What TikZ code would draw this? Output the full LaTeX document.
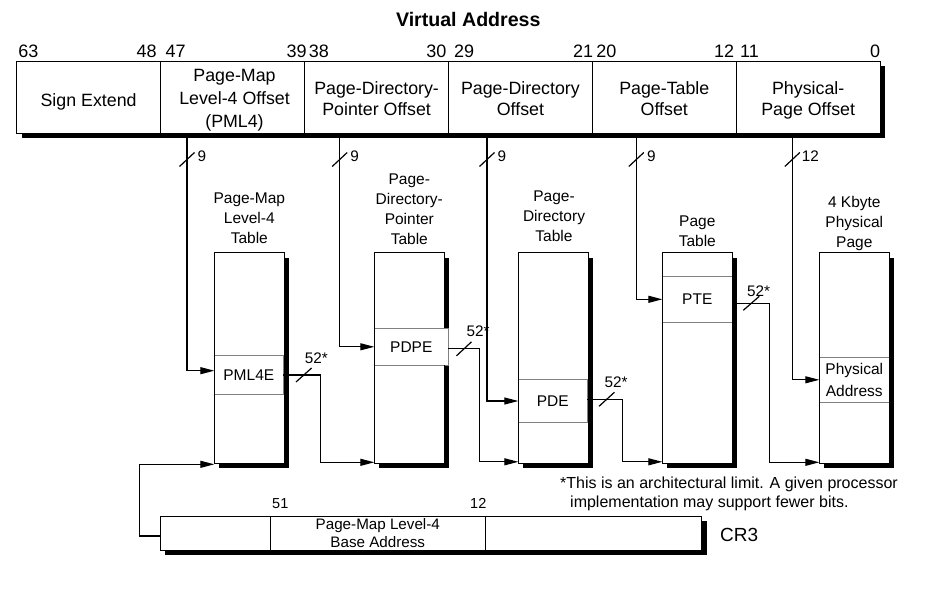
\documentclass[tikz,border=0pt]{standalone}
\usepackage{fontspec}
\setmainfont{Liberation Sans}
\usetikzlibrary{arrows.meta,shadows}
\begin{document}
\begin{tikzpicture}[x=1pt,y=-1pt,
  bx/.style={draw=black,line width=0.9pt,fill=white,inner sep=0pt,outer sep=0pt},
  shd/.style={drop shadow={shadow xshift=5pt,shadow yshift=-5pt,fill=black,opacity=1}},
  seg/.style={bx,minimum width=143.9pt,minimum height=72pt},
  bartxt/.style={inner sep=0pt,align=center,font=\fontsize{17.8}{21.5}\selectfont},
  bitn/.style={inner sep=0pt,font=\fontsize{18}{20}\selectfont},
  tbl/.style={bx,shd,minimum width=70pt,minimum height=210.6pt},
  ent/.style={draw=black!50,line width=0.8pt,fill=white,inner sep=0pt,outer sep=0pt,align=center,font=\fontsize{15.5}{21.7}\selectfont},
  ttl/.style={inner sep=0pt,align=center,font=\fontsize{15.5}{20}\selectfont},
  lbl/.style={inner sep=0pt,font=\fontsize{15.3}{17}\selectfont},
  conn/.style={line width=1.1pt,-{Triangle[length=14pt,width=7pt]}},
  slsh/.style={line width=1.2pt},
]
\fill[white] (0,0) rectangle (952,591);
\useasboundingbox (0,0) rectangle (952,591);

% title
\node[inner sep=0pt,font=\bfseries\fontsize{19.6}{22}\selectfont] (vtitle) at (468.3,19) {Virtual Address};

% bit numbers
\node[bitn] (b63) at (28.3,51.7) {63};
\node[bitn] (b48) at (146.7,51.7) {48};
\node[bitn] (b47) at (175.7,51.7) {47};
\node[bitn] (b39) at (296.7,51.7) {39};
\node[bitn] (b38) at (318.8,51.7) {38};
\node[bitn] (b30) at (436.3,51.7) {30};
\node[bitn] (b29) at (464.2,51.7) {29};
\node[bitn] (b21) at (583.2,51.7) {21};
\node[bitn] (b20) at (606.3,51.7) {20};
\node[bitn] (b12) at (724.2,51.7) {12};
\node[bitn] (b11) at (749.5,51.7) {11};
\node[bitn] (b0) at (875,51.7) {0};

% virtual address bar
\node[bx,shd,minimum width=863.3pt,minimum height=72pt] (vabar) at (448.35,97) {};
\node[seg] (s1) at (88.65,97) {};
\node[seg] (s2) at (232.55,97) {};
\node[seg] (s3) at (376.45,97) {};
\node[seg] (s4) at (520.35,97) {};
\node[seg] (s5) at (664.25,97) {};
\node[seg] (s6) at (808.15,97) {};
\node[bartxt] (t1) at (88.6,101.7) {Sign Extend};
\node[bartxt,font=\fontsize{17.8}{23}\selectfont] (t2) at (234.5,100.3) {Page-Map\\Level-4 Offset\\(PML4)};
\node[bartxt] (t3) at (376.6,98.4) {Page-Directory-\\Pointer Offset};
\node[bartxt] (t4) at (520.4,98.4) {Page-Directory\\Offset};
\node[bartxt] (t5) at (664.3,98.4) {Page-Table\\Offset};
\node[bartxt] (t6) at (808.2,100.2) {Physical-\\Page Offset};

% tables
\node[tbl] (pml4) at (249.3,358) {};
\node[tbl] (pdpt) at (409.3,358) {};
\node[tbl] (pd) at (553.3,358) {};
\node[tbl] (pt) at (697.3,358) {};
\node[tbl] (pg) at (854.3,358) {};

\node[ent,minimum width=69pt,minimum height=39.4pt] (pml4e) at (248.8,375) {PML4E};
\node[ent,minimum width=74pt,minimum height=37pt] (pdpe) at (411.3,346.8) {PDPE};
\node[ent,minimum width=69pt,minimum height=43.4pt] (pde) at (552.8,401) {PDE};
\node[ent,minimum width=70pt,minimum height=46pt] (pte) at (697.3,299.3) {PTE};
\node[ent,minimum width=70pt,minimum height=45pt] (pa) at (854.3,379.8) {Physical\\Address};

% redraw table outlines
\foreach \t in {pml4,pd,pt,pg}{
  \draw[line width=0.9pt] (\t.north west) rectangle (\t.south east);
}
\draw[line width=0.9pt] (pdpt.north west) -- (pdpt.north east) -- (pdpe.north east -| pdpt.east);
\draw[line width=0.9pt] (pdpe.south east -| pdpt.east) -- (pdpt.south east) -- (pdpt.south west) -- (pdpt.north west);

% table titles
\node[ttl] (ttl1) at (249.3,217.9) {Page-Map\\Level-4\\Table};
\node[ttl] (ttl2) at (409.3,209.2) {Page-\\Directory-\\Pointer\\Table};
\node[ttl] (ttl3) at (554,216.6) {Page-\\Directory\\Table};
\node[ttl] (ttl4) at (697.3,230.9) {Page\\Table};
\node[ttl] (ttl5) at (854.3,223.25) {4 Kbyte\\Physical\\Page};

% index connectors from the virtual address
\coordinate (d1) at (187,133);
\coordinate (d2) at (339.7,133);
\coordinate (d3) at (487,133);
\coordinate (d4) at (636.3,133);
\coordinate (d5) at (792.3,133);
\draw[conn] (d1) |- ([yshift=4.3pt]pml4e.west);
\draw[conn] (d2) |- (pdpe.west);
\draw[conn] (d3) |- (pde.west);
\draw[conn] (d4) |- (pte.west);
\draw[conn] (d5) |- (pa.west);

\foreach \x in {187,339.7,487,636.3}{
  \draw[slsh] (\x-7.5,166.5) -- ++(15,-14);
}
\draw[slsh] (792.3-7.5,166.5) -- ++(15,-14);
\node[lbl,anchor=west] (n9a) at (197.5,156.5) {9};
\node[lbl,anchor=west] (n9b) at (350.2,156.5) {9};
\node[lbl,anchor=west] (n9c) at (497.5,156.5) {9};
\node[lbl,anchor=west] (n9d) at (646.8,156.5) {9};
\node[lbl,anchor=west] (n12) at (801.7,156.5) {12};

% entry to next table connectors
\draw[conn] (pml4e.east) -- ++(37,0) |- ([yshift=1pt]pdpt.south west);
\draw[conn] ([yshift=-2pt]pdpe.east) -- ++(31.4,0) |- ([yshift=1.5pt]pd.south west);
\draw[conn] ([yshift=1.7pt]pde.east) -- ++(35,0) |- ([yshift=1.5pt]pt.south west);
\draw[conn] ([yshift=-4pt]pte.east) -- ++(37,0) |- ([yshift=1pt]pg.south west);

\draw[slsh] (303.8-7.8,375+7) -- ++(15.6,-14);
\draw[slsh] (464-7.5,348.8+7) -- ++(15,-14);
\draw[slsh] (606.7-7.7,399.3+7) -- ++(15.4,-14);
\draw[slsh] (751.3-8,303.3+7) -- ++(16,-14);
\node[lbl] (w1) at (316.3,357.8) {52*};
\node[lbl] (w2) at (478,331) {52*};
\node[lbl] (w3) at (616,382.2) {52*};
\node[lbl] (w4) at (758.7,291.2) {52*};

% footnote
\node[inner sep=0pt,anchor=north west,align=left,font=\fontsize{16}{19}\selectfont] (fn) at (560,476.3)
  {*This is an architectural limit. A given processor\\\hspace*{10pt}implementation may support fewer bits.};

% CR3
\node[bx,shd,minimum width=541.4pt,minimum height=33.7pt] (cr3box) at (431,533.15) {};
\node[bx,minimum width=110pt,minimum height=33.7pt] (crA) at (215.3,533.15) {};
\node[bx,minimum width=215pt,minimum height=33.7pt,align=center,font=\fontsize{15.2}{18.3}\selectfont] (crB) at (377.8,533.15) {Page-Map Level-4\\Base Address};
\node[bx,minimum width=216.4pt,minimum height=33.7pt] (crC) at (593.5,533.15) {};
\node[lbl,font=\fontsize{14.5}{16}\selectfont] (n51) at (280.3,503.3) {51};
\node[lbl,font=\fontsize{14.5}{16}\selectfont] (n12b) at (478.3,503.3) {12};
\node[inner sep=0pt,font=\fontsize{19}{21}\selectfont] (cr3) at (739.2,535) {CR3};

\draw[conn] ([yshift=-2.8pt]crA.west) -- ++(-21,0) |- ([yshift=-1pt]pml4.south west);
\end{tikzpicture}
\end{document}
